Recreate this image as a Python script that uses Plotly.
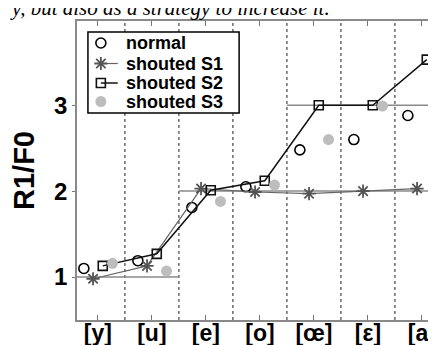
import plotly.graph_objects as go

categories = ["[y]", "[u]", "[e]", "[o]", "[œ]", "[ε]", "[a]"]
normal = [1.10, 1.19, 1.81, 2.05, 2.48, 2.60, 2.88]
shouted_s1 = [0.98, 1.13, 2.03, 1.99, 1.97, 2.00, 2.03]
shouted_s2 = [1.13, 1.27, 2.01, 2.12, 3.00, 3.00, 3.53]
shouted_s3 = [1.16, 1.07, 1.88, 2.07, 2.60, 2.99, 3.16]
series_names = ["normal", "shouted S1", "shouted S2", "shouted S3"]
# reference levels: (level, start, end)
ref_levels = [1, 2, 3]
ref_starts = [0.5, 2.5, 4.5]
ref_ends = [2.5, 7.6, 7.6]
boundaries = [1.5, 2.5, 3.5, 4.5, 5.5, 6.5]

xpos = list(range(1, len(categories) + 1))
def shift(d):
    return [x + d for x in xpos]

styles = [
    dict(mode="markers", marker=dict(symbol="circle-open", size=10, color="black", line=dict(width=1.6))),
    dict(mode="lines+markers", line=dict(color="#666", width=1.2),
         marker=dict(symbol="asterisk-open", size=11, color="#555", line=dict(width=1.8, color="#555"))),
    dict(mode="lines+markers", line=dict(color="#111", width=1.5),
         marker=dict(symbol="square-open", size=9, color="#111", line=dict(width=1.6))),
    dict(mode="markers", marker=dict(symbol="circle", size=11, color="#bdbdbd")),
]
offsets = [-0.26, -0.09, 0.09, 0.27]
values = [normal, shouted_s1, shouted_s2, shouted_s3]

fig = go.Figure()

for lv, s, e in zip(ref_levels, ref_starts, ref_ends):
    fig.add_shape(type="line", x0=max(s, 0.613), x1=e, y0=lv, y1=lv, xref="x", yref="y",
                  line=dict(color="#8a8a8a", width=1.5), layer="below")
for b in boundaries:
    fig.add_shape(type="line", x0=b, x1=b, y0=0, y1=1, xref="x", yref="paper",
                  line=dict(color="#444", width=1.2, dash="dot"), layer="below")

for name, vals, off, st in zip(series_names, values, offsets, styles):
    fig.add_trace(go.Scatter(x=shift(off), y=vals, name=name, showlegend=False, **st))

# manual legend (pixel-based overlay axes)
fig.add_shape(type="rect", xref="x2", yref="y2", x0=80, x1=232, y0=24, y1=105,
              line=dict(color="black", width=1.5), fillcolor="white", layer="below")
row_y = [35, 55.5, 75, 93.5]
for name, ry, st in zip(series_names, row_y, styles):
    if "lines" in st["mode"]:
        fig.add_trace(go.Scatter(x=[93, 110], y=[ry, ry], xaxis="x2", yaxis="y2", mode="lines",
                                 line=st["line"], showlegend=False, hoverinfo="skip"))
    fig.add_trace(go.Scatter(x=[93], y=[ry], xaxis="x2", yaxis="y2", mode="markers",
                             marker=st["marker"], showlegend=False, hoverinfo="skip"))
    fig.add_annotation(text=name, xref="x2", yref="y2", x=116, y=ry, xanchor="left", yanchor="middle",
                       showarrow=False, font=dict(size=18, family="Liberation Sans", weight="bold", color="black"))

fig.add_annotation(text="y, but also as a strategy to increase it.", xref="paper", yref="paper",
                   x=-0.188, y=1, xanchor="left", yanchor="bottom", yshift=-1, showarrow=False,
                   font=dict(family="Liberation Serif", size=21, color="black", style="italic"))
fig.update_layout(
    width=436, height=345,
    margin=dict(l=69, r=0, t=13, b=33),
    paper_bgcolor="white", plot_bgcolor="white",
    font=dict(family="Liberation Sans, Arial", color="black"),
    showlegend=False,
    xaxis=dict(range=[0.613, 7.372], tickvals=xpos, ticktext=categories,
               ticks="inside", ticklen=5, tickcolor="#777", showgrid=False, zeroline=False,
               showline=True, linecolor="#8a8a8a", linewidth=1.5, mirror="ticks",
               tickfont=dict(size=23, weight="bold"), ticklabelstandoff=-8),
    yaxis=dict(range=[0.5, 3.98], tickvals=[1, 2, 3], ticktext=["1", "2", "3"],
               ticks="outside", ticklen=3, tickcolor="#777", showgrid=False, zeroline=False,
               showline=True, linecolor="#8a8a8a", linewidth=1.5, mirror=True,
               tickfont=dict(size=24, weight="bold"),
               title=dict(text="R1/F0", font=dict(size=29, weight="bold"), standoff=14)),
    xaxis2=dict(overlaying="x", range=[69, 436], visible=False, fixedrange=True),
    yaxis2=dict(overlaying="y", range=[312, 13], visible=False, fixedrange=True),
)

fig.write_html("out.html")
